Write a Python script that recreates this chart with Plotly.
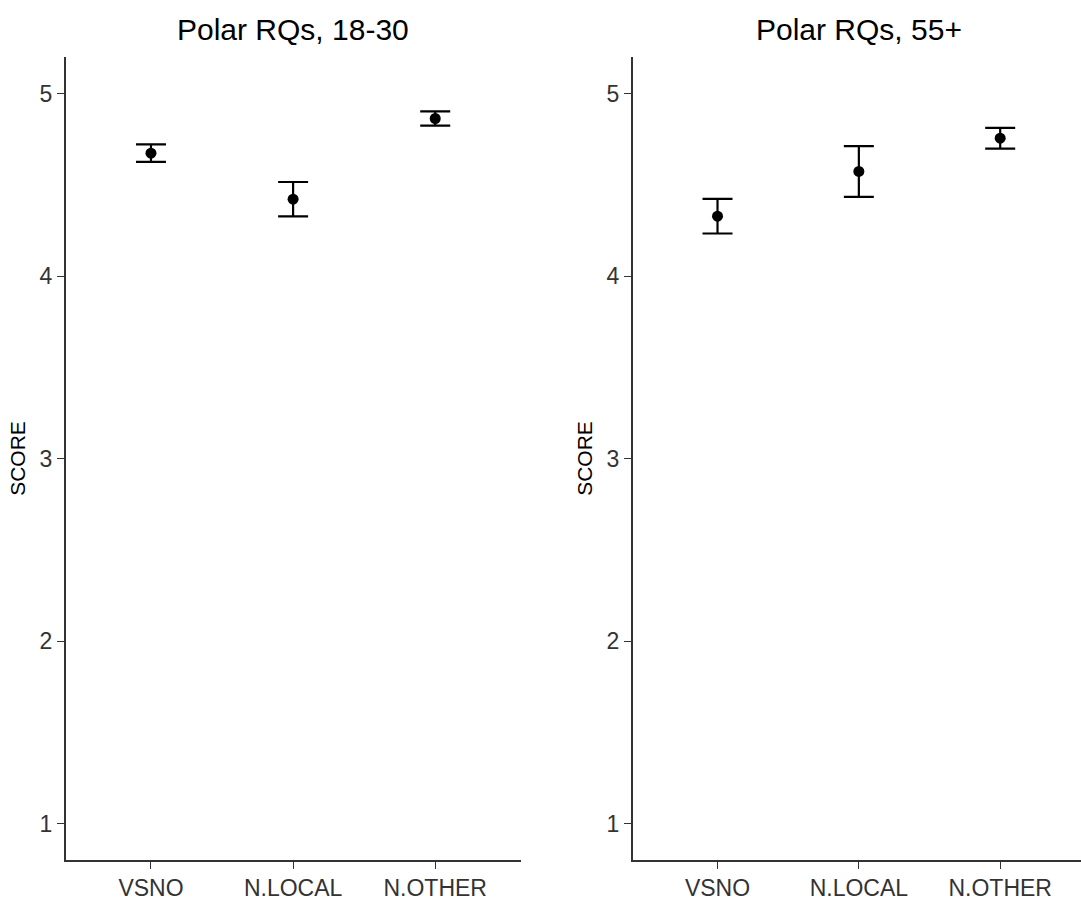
import plotly.graph_objects as go

W, H = 1081, 900

categories = ["VSNO", "N.LOCAL", "N.OTHER"]
panel_titles = ["Polar RQs, 18-30", "Polar RQs, 55+"]

young_mean = [4.673, 4.421, 4.863]
young_se = [0.048, 0.094, 0.039]
old_mean = [4.328, 4.573, 4.755]
old_se = [0.095, 0.139, 0.057]

y_ticks = [1, 2, 3, 4, 5]

FONT = "Liberation Sans, Arial, sans-serif"
AXIS_COL = "#333333"
TEXT_COL = "#333333"

fig = go.Figure()

series = [(young_mean, young_se), (old_mean, old_se)]
for i, (m, se) in enumerate(series):
    sfx = "" if i == 0 else "2"
    fig.add_trace(go.Scatter(
        x=categories, y=m,
        mode="markers",
        marker=dict(color="black", size=11),
        error_y=dict(type="data", array=se, visible=True,
                     color="black", thickness=2.2, width=15),
        xaxis="x" + sfx, yaxis="y" + sfx,
        showlegend=False,
    ))

# panel geometry in pixels
left_x = (65.7, 520.5)
right_x = (632.7, 1085.0)
y_top, y_bot = 57, 860

def px_x(v):
    return v / W

def px_y(v):
    return 1 - v / H

axis_common = dict(
    showline=True, linecolor=AXIS_COL, linewidth=1.6,
    ticks="outside", ticklen=7, tickwidth=1.4, tickcolor=AXIS_COL,
    showgrid=False, zeroline=False,
    tickfont=dict(family=FONT, size=23, color=TEXT_COL),
)

right_span = (W - right_x[0]) / (right_x[1] - right_x[0]) * 3.2

fig.update_layout(
    width=W, height=H,
    margin=dict(l=0, r=0, t=0, b=0),
    paper_bgcolor="white", plot_bgcolor="white",
    xaxis=dict(domain=[px_x(left_x[0]), px_x(left_x[1])],
               type="category", categoryorder="array", categoryarray=categories,
               range=[-0.6, 2.6], anchor="y", **axis_common),
    yaxis=dict(domain=[px_y(y_bot), px_y(y_top)], range=[0.8, 5.2],
               tickvals=y_ticks, anchor="x",
               title=dict(text="SCORE", font=dict(family=FONT, size=21, color="black"),
                          standoff=8),
               **axis_common),
    xaxis2=dict(domain=[px_x(right_x[0]), 1.0],
                type="category", categoryorder="array", categoryarray=categories,
                range=[-0.6, -0.6 + right_span], anchor="y2", **axis_common),
    yaxis2=dict(domain=[px_y(y_bot), px_y(y_top)], range=[0.8, 5.2],
                tickvals=y_ticks, anchor="x2",
                title=dict(text="SCORE", font=dict(family=FONT, size=21, color="black"),
                           standoff=8),
                **axis_common),
)

centers = [(left_x[0] + left_x[1]) / 2, (right_x[0] + right_x[1]) / 2]
for t, cx in zip(panel_titles, centers):
    fig.add_annotation(
        text=t, x=px_x(cx), y=px_y(30), xref="paper", yref="paper",
        xanchor="center", yanchor="middle", showarrow=False,
        font=dict(family=FONT, size=30, color="black"),
    )

fig.write_html("out.html")
